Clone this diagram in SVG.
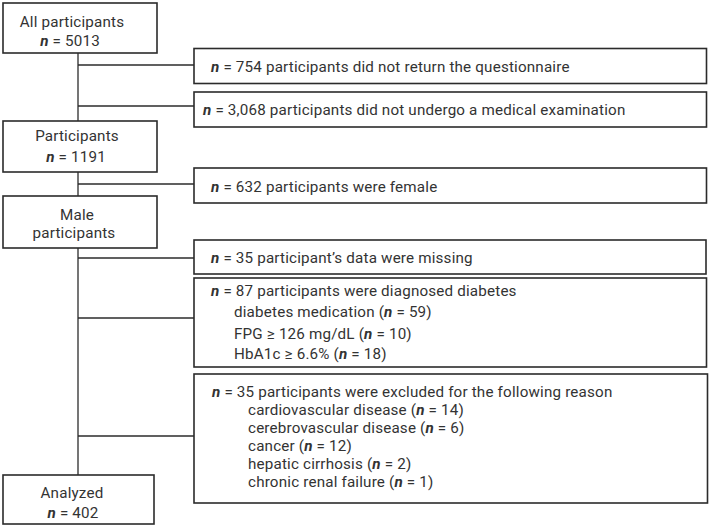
<svg xmlns="http://www.w3.org/2000/svg" width="709" height="527" viewBox="0 0 709 527">
<style>
.box{fill:#fff;stroke:#2b2b2b;stroke-width:1.6}
.ln{stroke:#2b2b2b;stroke-width:1.3;fill:none}
text{font-family:Roboto,"Liberation Sans",sans-serif;font-size:15.2px;fill:#333;letter-spacing:0.18px}
.n{font-style:italic;font-weight:bold}
.c{text-anchor:middle}
</style>
<rect width="709" height="527" fill="#fff"/>
<g id="connectors">
<line class="ln" x1="78" y1="53" x2="78" y2="475"/>
<line class="ln" x1="78" y1="65" x2="194" y2="65"/>
<line class="ln" x1="78" y1="106" x2="194" y2="106"/>
<line class="ln" x1="78" y1="184" x2="194" y2="184"/>
<line class="ln" x1="78" y1="258" x2="194" y2="258"/>
<line class="ln" x1="78" y1="318" x2="194" y2="318"/>
<line class="ln" x1="78" y1="436" x2="194" y2="436"/>
</g>
<g id="all">
<rect class="box" x="3" y="3" width="154" height="50"/>
<text x="72" y="27" class="c">All participants</text>
<text x="70" y="46" class="c"><tspan class="n">n</tspan> = 5013</text>
</g>
<g id="ex754">
<rect class="box" x="194" y="48.5" width="512.5" height="35"/>
<text x="211" y="72"><tspan class="n">n</tspan> = 754 participants did not return the questionnaire</text>
</g>
<g id="ex3068">
<rect class="box" x="194" y="92" width="512.5" height="35"/>
<text x="203" y="115"><tspan class="n">n</tspan> = 3,068 participants did not undergo a medical examination</text>
</g>
<g id="participants">
<rect class="box" x="3" y="121" width="154" height="51"/>
<text x="77" y="141" class="c">Participants</text>
<text x="76" y="162" class="c"><tspan class="n">n</tspan> = 1191</text>
</g>
<g id="female">
<rect class="box" x="194" y="168" width="512.5" height="35"/>
<text x="211" y="192"><tspan class="n">n</tspan> = 632 participants were female</text>
</g>
<g id="male">
<rect class="box" x="3" y="196" width="154" height="52"/>
<text x="77" y="220" class="c">Male</text>
<text x="74" y="238" class="c">participants</text>
</g>
<g id="missing">
<rect class="box" x="194" y="240" width="512" height="34"/>
<text x="211" y="263"><tspan class="n">n</tspan> = 35 participant’s data were missing</text>
</g>
<g id="diabetes">
<rect class="box" x="194" y="278" width="512.5" height="89"/>
<text x="211" y="296"><tspan class="n">n</tspan> = 87 participants were diagnosed diabetes</text>
<text x="234" y="317">diabetes medication (<tspan class="n">n</tspan> = 59)</text>
<text x="234" y="339">FPG ≥ 126 mg/dL (<tspan class="n">n</tspan> = 10)</text>
<text x="234" y="359">HbA1c ≥ 6.6% (<tspan class="n">n</tspan> = 18)</text>
</g>
<g id="excluded">
<rect class="box" x="194" y="374" width="513.5" height="129"/>
<text x="212" y="397"><tspan class="n">n</tspan> = 35 participants were excluded for the following reason</text>
<text x="248" y="415">cardiovascular disease (<tspan class="n">n</tspan> = 14)</text>
<text x="248" y="433">cerebrovascular disease (<tspan class="n">n</tspan> = 6)</text>
<text x="248" y="451">cancer (<tspan class="n">n</tspan> = 12)</text>
<text x="248" y="469">hepatic cirrhosis (<tspan class="n">n</tspan> = 2)</text>
<text x="248" y="487">chronic renal failure (<tspan class="n">n</tspan> = 1)</text>
</g>
<g id="analyzed">
<rect class="box" x="3" y="475" width="151" height="49"/>
<text x="72" y="498" class="c">Analyzed</text>
<text x="73" y="518" class="c"><tspan class="n">n</tspan> = 402</text>
</g>
</svg>
